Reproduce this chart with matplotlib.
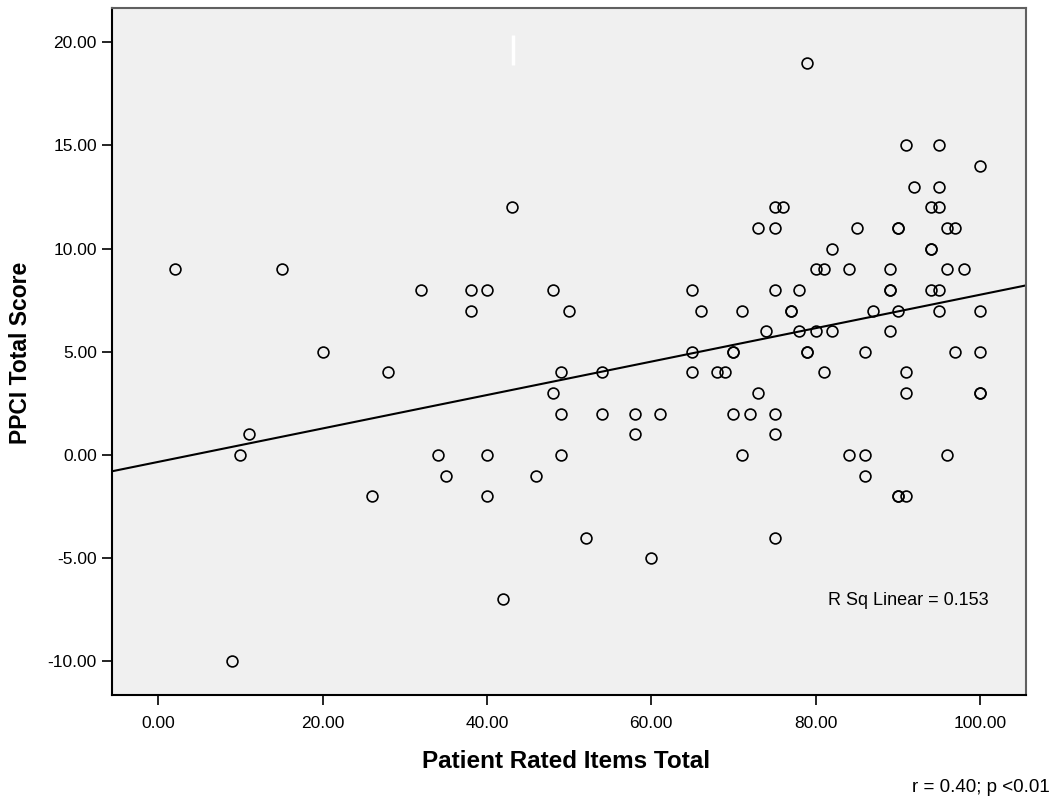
import matplotlib
matplotlib.use("Agg")
import matplotlib.pyplot as plt
import numpy as np

plt.rcParams['font.family'] = ['Liberation Sans', 'DejaVu Sans']

# patient rated items total vs PPCI total score
patient_total = [2, 15, 20, 11, 10, 9,
                 43, 32, 38, 40, 48, 38, 50, 65, 66, 65,
                 28, 49, 54, 65, 48, 49, 54, 58, 61, 58,
                 34, 40, 49, 35, 46, 26, 40, 52, 60, 42,
                 79, 91, 95, 100, 92, 95, 75, 76, 94, 95,
                 73, 75, 85, 90, 90, 96, 97, 82, 94, 94,
                 80, 81, 84, 89, 96, 98, 75, 78, 89, 89, 94, 95,
                 71, 77, 77, 87, 90, 95, 100,
                 74, 78, 80, 82, 89,
                 70, 70, 79, 79, 86, 97, 100,
                 68, 69, 81, 91, 73, 91, 100, 100,
                 70, 72, 75, 75, 71, 84, 86, 96, 86,
                 90, 90, 91, 75]
ppci_total = [9, 9, 5, 1, 0, -10,
              12, 8, 8, 8, 8, 7, 7, 8, 7, 5,
              4, 4, 4, 4, 3, 2, 2, 2, 2, 1,
              0, 0, 0, -1, -1, -2, -2, -4, -5, -7,
              19, 15, 15, 14, 13, 13, 12, 12, 12, 12,
              11, 11, 11, 11, 11, 11, 11, 10, 10, 10,
              9, 9, 9, 9, 9, 9, 8, 8, 8, 8, 8, 8,
              7, 7, 7, 7, 7, 7, 7,
              6, 6, 6, 6, 6,
              5, 5, 5, 5, 5, 5, 5,
              4, 4, 4, 4, 3, 3, 3, 3,
              2, 2, 2, 1, 0, 0, 0, 0, -1,
              -2, -2, -2, -4]

xticks = [0, 20, 40, 60, 80, 100]
yticks = [-10, -5, 0, 5, 10, 15, 20]

x = np.array(patient_total, dtype=float)
y = np.array(ppci_total, dtype=float)
fit = np.polyfit(x, y, 1)

fig = plt.figure(figsize=(10.55, 8), dpi=100)
ax = fig.add_axes([0.1062, 0.13125, 0.8663, 0.85875])
ax.set_facecolor('#f0f0f0')

xlim = (-5.63, 105.6)
ax.set_xlim(xlim)
ax.set_ylim(-11.63, 21.66)

xl = np.array(xlim)
ax.plot(xl, fit[0] * xl + fit[1], color='black', lw=1.5, zorder=2)
ax.plot(x, y, 'o', mfc='none', mec='black', ms=7.8, mew=1.2, zorder=3)

# little white mark near the top of the plot area
ax.plot([0.4384, 0.4384], [0.917, 0.9607], color='white', lw=2.5,
        transform=ax.transAxes, solid_capstyle='butt')

ax.set_xticks(xticks)
ax.set_xticklabels(['%.2f' % v for v in xticks])
ax.set_yticks(yticks)
ax.set_yticklabels(['%.2f' % v for v in yticks])
ax.tick_params(axis='both', direction='out', length=7, width=1.2,
               labelsize=12.5, color='black')
ax.tick_params(axis='x', pad=8)
ax.tick_params(axis='y', pad=4)

for side in ['left', 'bottom']:
    ax.spines[side].set_color('black')
    ax.spines[side].set_linewidth(1.5)
for side in ['top', 'right']:
    ax.spines[side].set_color('#606060')
    ax.spines[side].set_linewidth(1.5)

ax.text(0.9595, 0.1376, 'R Sq Linear = 0.153', transform=ax.transAxes,
        ha='right', va='center', fontsize=13)

fig.text(566 / 1055, 1 - 762 / 800, 'Patient Rated Items Total',
         ha='center', va='center', fontsize=17.5, fontweight='bold')
fig.text(21 / 1055, 1 - 353 / 800, 'PPCI Total Score', rotation=90,
         ha='center', va='center', fontsize=16.5, fontweight='bold')
fig.text(1050 / 1055, 1 - 788 / 800, 'r = 0.40; p <0.01',
         ha='right', va='center', fontsize=13.5)

fig.savefig('out.png', dpi=100)
